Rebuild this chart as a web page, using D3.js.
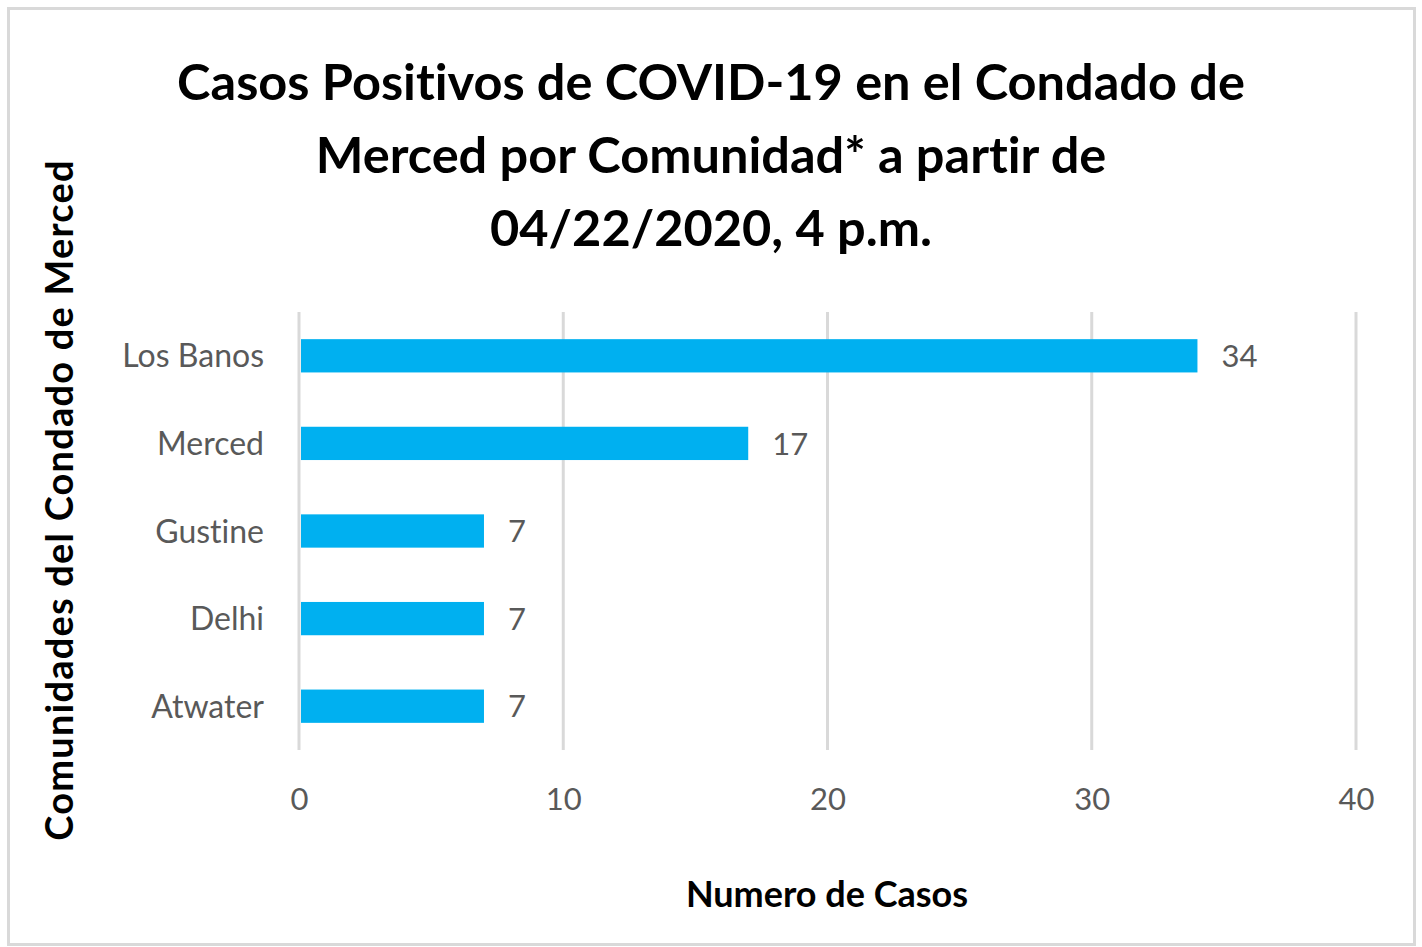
<!DOCTYPE html>
<html>
<head>
<meta charset="utf-8">
<script src="https://cdn.jsdelivr.net/npm/d3@7"></script>
<style>
  body { margin: 0; background: #fff; }
  svg { display: block; }
  text { font-variant-ligatures: none; }
</style>
</head>
<body>
<div id="chart"></div>
<script>
// data
const communities = ["Los Banos", "Merced", "Gustine", "Delhi", "Atwater"];
const cases = [34, 17, 7, 7, 7];
const xTicks = [0, 10, 20, 30, 40];
const titleLines = [
  "Casos Positivos de COVID-19 en el Condado de",
  "Merced por Comunidad* a partir de",
  "04/22/2020, 4 p.m."
];

const width = 1422, height = 947;
const margin = { top: 312, right: 66, bottom: 197, left: 299 };
const FONT = "Lato, 'Open Sans', sans-serif";

const svg = d3.select("#chart")
  .append("svg")
  .attr("width", width)
  .attr("height", height);

// outer frame
svg.append("rect")
  .attr("x", 8.5).attr("y", 8.5)
  .attr("width", 1406).attr("height", 936)
  .attr("fill", "#fff")
  .attr("stroke", "#d9d9d9")
  .attr("stroke-width", 3);

const x = d3.scaleLinear()
  .domain([0, 40])
  .range([margin.left, width - margin.right]);

const y = d3.scaleBand()
  .domain(communities)
  .range([margin.top, height - margin.bottom])
  .paddingInner(0.62)
  .paddingOuter(0.31);

// gridlines
svg.append("g")
  .selectAll("line")
  .data(xTicks)
  .join("line")
  .attr("x1", d => x(d)).attr("x2", d => x(d))
  .attr("y1", margin.top).attr("y2", height - margin.bottom)
  .attr("stroke", "#d9d9d9")
  .attr("stroke-width", 3);

// bars
svg.append("g")
  .selectAll("rect")
  .data(communities)
  .join("rect")
  .attr("x", x(0) + 2)
  .attr("y", d => y(d))
  .attr("width", (d, i) => x(cases[i]) - x(0) - 2)
  .attr("height", y.bandwidth())
  .attr("fill", "#00b0f0");

// value labels
svg.append("g")
  .selectAll("text")
  .data(communities)
  .join("text")
  .attr("x", (d, i) => x(cases[i]) + 24)
  .attr("y", d => y(d) + y.bandwidth() / 2)
  .attr("dy", "0.36em")
  .attr("fill", "#595959")
  .attr("font-family", FONT)
  .attr("font-size", 31)
  .text((d, i) => cases[i]);

// category labels
svg.append("g")
  .selectAll("text")
  .data(communities)
  .join("text")
  .attr("x", 264)
  .attr("y", d => y(d) + y.bandwidth() / 2)
  .attr("dy", "0.36em")
  .attr("text-anchor", "end")
  .attr("fill", "#595959")
  .attr("font-family", FONT)
  .attr("font-size", 32)
  .text(d => d);

// x tick labels
const xAxis = d3.axisBottom(x).tickValues(xTicks).tickSize(0).tickPadding(0);
svg.append("g")
  .attr("transform", `translate(0,${height - margin.bottom})`)
  .call(xAxis)
  .call(g => g.select(".domain").remove())
  .call(g => g.selectAll("text")
    .attr("y", 60)
    .attr("dy", 0)
    .attr("fill", "#595959")
    .attr("font-family", FONT)
    .attr("font-size", 31));

// title
const title = svg.append("text")
  .attr("text-anchor", "middle")
  .attr("font-family", FONT)
  .attr("font-weight", "bold")
  .attr("font-size", 50.5)
  .attr("fill", "#000");
titleLines.forEach((t, i) => {
  title.append("tspan")
    .attr("x", 711)
    .attr("y", 100 + i * 73)
    .text(t);
});

// axis titles
svg.append("text")
  .attr("x", 827)
  .attr("y", 907)
  .attr("text-anchor", "middle")
  .attr("font-family", FONT)
  .attr("font-weight", "bold")
  .attr("font-size", 36)
  .attr("fill", "#000")
  .text("Numero de Casos");

svg.append("text")
  .attr("transform", "translate(73,500) rotate(-90)")
  .attr("text-anchor", "middle")
  .attr("font-family", FONT)
  .attr("font-weight", "bold")
  .attr("font-size", 38)
  .attr("letter-spacing", 1.2)
  .attr("fill", "#000")
  .text("Comunidades del Condado de Merced");
</script>
</body>
</html>
